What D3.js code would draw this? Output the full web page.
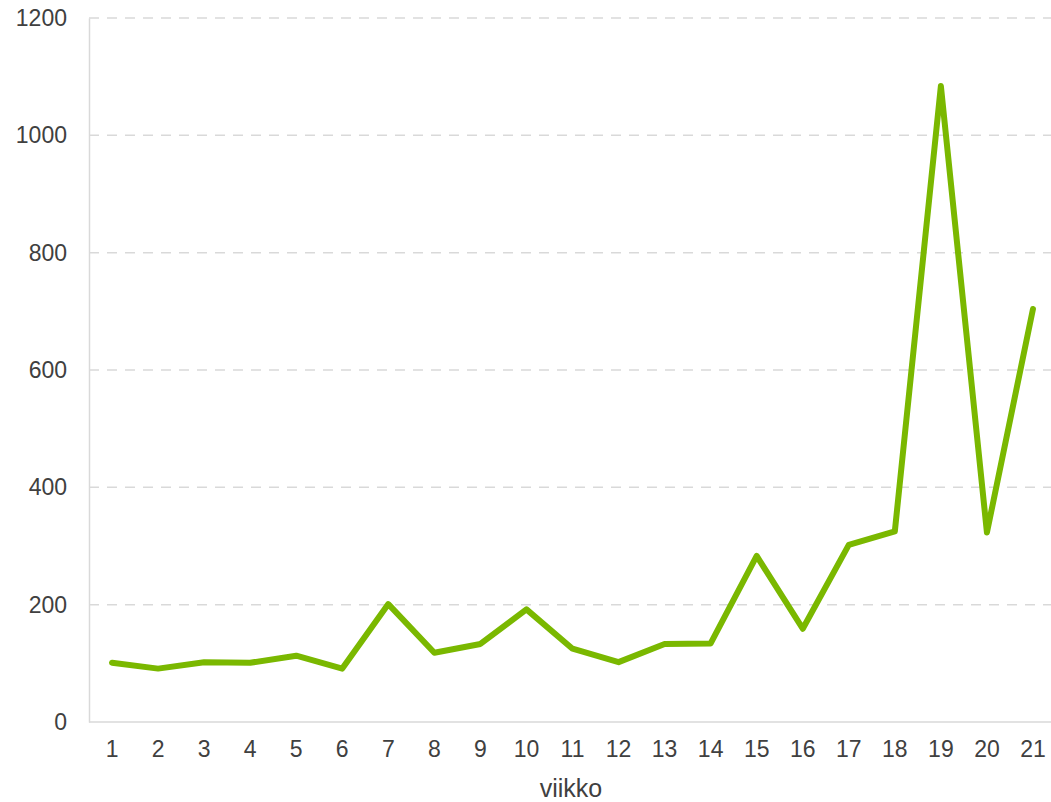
<!DOCTYPE html>
<html>
<head>
<meta charset="utf-8">
<script src="https://cdn.jsdelivr.net/npm/d3@7"></script>
<style>
  body { margin: 0; background: #fff; }
  text { font-family: "Liberation Sans", Arial, sans-serif; fill: #404040; }
</style>
</head>
<body>
<div id="chart"></div>
<script>
// weeks on the x axis
var weeks = ["1","2","3","4","5","6","7","8","9","10","11","12","13","14","15","16","17","18","19","20","21"];
// weekly values
var values = [101, 91, 102, 101, 113, 91, 201, 118, 133, 192, 125, 102, 133, 134, 283, 159, 302, 325, 1084, 323, 704];
var y_ticks = [0, 200, 400, 600, 800, 1000, 1200];
var x_title = "viikko";

var width = 1051;
var height = 802;
var left = 89;
var right = 1056;
var top_y = 18;
var bottom_y = 722;
var line_color = "#7ab800";
var grid_color = "#d9d9d9";
var font = "Liberation Sans, Arial, sans-serif";

var svg = d3.select("#chart").append("svg")
    .attr("width", width)
    .attr("height", height);

var x = d3.scaleBand()
    .domain(weeks)
    .range([left, right]);

var y = d3.scaleLinear()
    .domain([0, 1200])
    .range([bottom_y, top_y]);

// gridlines
svg.append("g")
    .selectAll("line")
    .data(y_ticks.filter(function (d) { return d > 0; }))
    .enter().append("line")
    .attr("x1", left)
    .attr("x2", width)
    .attr("y1", function (d) { return y(d); })
    .attr("y2", function (d) { return y(d); })
    .attr("stroke", grid_color)
    .attr("stroke-width", 1.5)
    .attr("stroke-dasharray", "10,8");

// y axis
var yAxis = svg.append("g")
    .attr("transform", "translate(" + left + ",0)")
    .call(d3.axisLeft(y).tickValues(y_ticks).tickFormat(d3.format("d")).tickSize(0).tickPadding(22));
yAxis.select(".domain").attr("stroke", grid_color).attr("stroke-width", 1.5);
yAxis.selectAll("text").style("font-size", "23px").style("font-family", font).attr("fill", "#404040");

// x axis
var xAxis = svg.append("g")
    .attr("transform", "translate(0," + bottom_y + ")")
    .call(d3.axisBottom(x).tickSize(0).tickPadding(19));
xAxis.select(".domain").attr("stroke", grid_color).attr("stroke-width", 1.5)
    .attr("d", "M" + left + ",0H" + width);
xAxis.selectAll("text").style("font-size", "23px").style("font-family", font).attr("fill", "#404040");

svg.append("text")
    .attr("x", 571)
    .attr("y", 797)
    .attr("text-anchor", "middle")
    .style("font-size", "25px")
    .text(x_title);

// the line
var line = d3.line()
    .x(function (d, i) { return x(weeks[i]) + x.bandwidth() / 2; })
    .y(function (d) { return y(d); });

svg.append("path")
    .datum(values)
    .attr("d", line)
    .attr("fill", "none")
    .attr("stroke", line_color)
    .attr("stroke-width", 6)
    .attr("stroke-linejoin", "round")
    .attr("stroke-linecap", "round");
</script>
</body>
</html>
